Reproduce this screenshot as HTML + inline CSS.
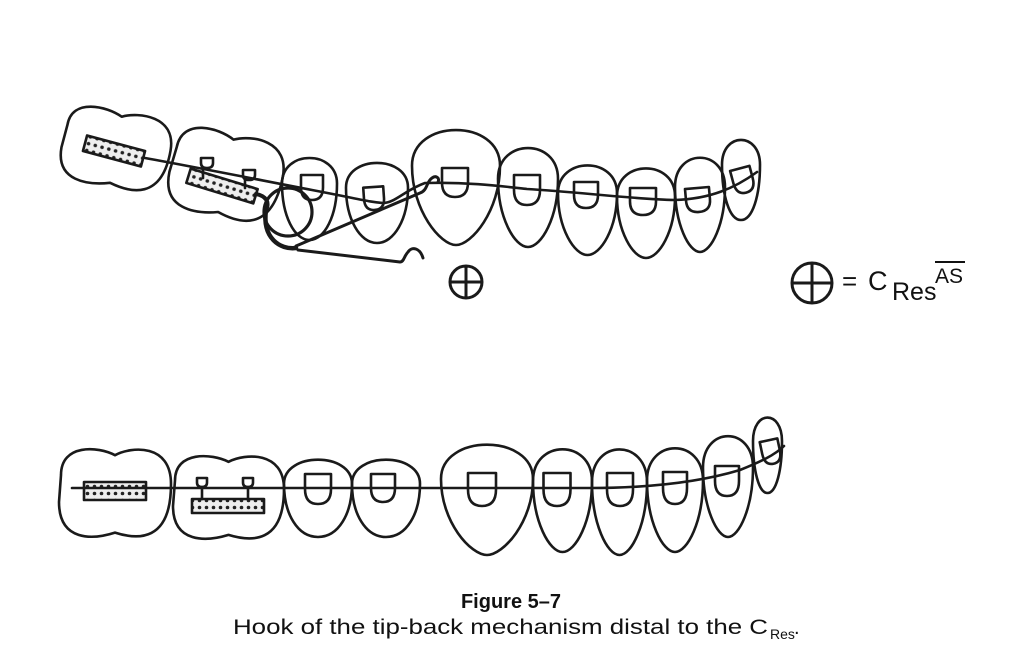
<!DOCTYPE html>
<html><head><meta charset="utf-8"><style>
html,body{margin:0;padding:0;background:#fff;}
svg{display:block;}
</style></head><body>
<svg width="1023" height="660" viewBox="0 0 1023 660" xmlns="http://www.w3.org/2000/svg">
<defs>
<pattern id="dots" width="7" height="7" patternUnits="userSpaceOnUse">
<rect width="7" height="7" fill="#eee"/><circle cx="3.5" cy="3.5" r="1.8" fill="#222"/>
</pattern>
</defs>
<g id="g" fill="none" stroke="#1a1a1a" stroke-width="2.6" stroke-linejoin="round" stroke-linecap="round"></g>
<text x="511" y="608" text-anchor="middle" font-family="Liberation Sans, sans-serif" font-weight="bold" font-size="20" fill="#111">Figure 5–7</text>
<text x="233" y="634" font-family="Liberation Sans, sans-serif" font-size="21" fill="#111" textLength="535" lengthAdjust="spacingAndGlyphs">Hook of the tip-back mechanism distal to the C</text>
<text x="770" y="639" font-family="Liberation Sans, sans-serif" font-size="14" fill="#111">Res</text>
<text x="794" y="634" font-family="Liberation Sans, sans-serif" font-size="20" fill="#111">.</text>
<text x="842" y="290" font-family="Liberation Sans, sans-serif" font-size="26" fill="#111">=</text>
<text x="868" y="290" font-family="Liberation Sans, sans-serif" font-size="27" fill="#111">C</text>
<text x="892" y="300" font-family="Liberation Sans, sans-serif" font-size="25" fill="#111">Res</text>
<text x="935" y="283" font-family="Liberation Sans, sans-serif" font-size="21" fill="#111">AS</text>
<line x1="935" y1="262" x2="965" y2="262" stroke="#111" stroke-width="2"/>
</svg>
<script>
var g=document.getElementById('g');var NS='http://www.w3.org/2000/svg';
function P(d,extra){var p=document.createElementNS(NS,'path');p.setAttribute('d',d);if(extra)for(var k in extra)p.setAttribute(k,extra[k]);g.appendChild(p);return p;}
function tooth(x0,x1,top,bot,nb){var w=x1-x0,cx=(x0+x1)/2,h=bot-top,wb=w*(nb||0.45);
P('M'+x0+','+(top+0.35*h)+' C'+x0+','+(top-0.04*h)+' '+x1+','+(top-0.04*h)+' '+x1+','+(top+0.35*h)+' C'+x1+','+(top+0.72*h)+' '+(cx+wb/2)+','+bot+' '+cx+','+bot+' C'+(cx-wb/2)+','+bot+' '+x0+','+(top+0.72*h)+' '+x0+','+(top+0.35*h)+' Z');}
function brk(cx,t,w,h,rot){var d='M'+(cx-w/2)+','+t+' H'+(cx+w/2)+' V'+(t+h*0.5)+' Q'+(cx+w/2)+','+(t+h)+' '+cx+','+(t+h)+' Q'+(cx-w/2)+','+(t+h)+' '+(cx-w/2)+','+(t+h*0.5)+' Z';
P(d,rot?{transform:'rotate('+rot+' '+cx+' '+(t+h/2)+')'}:null);}
function molar(x0,x1,y0,y1,rot){var w=x1-x0,h=y1-y0,cx=(x0+x1)/2,cy=(y0+y1)/2;
var d='M'+(x0+2)+','+(y0+h*0.3)+' C'+(x0+2)+','+(y0-h*0.05)+' '+(x0+w*0.35)+','+(y0-0.02*h)+' '+cx+','+(y0+h*0.08)+' C'+(x0+w*0.65)+','+(y0-0.02*h)+' '+x1+','+(y0-0.05*h)+' '+x1+','+(y0+h*0.4)+' C'+x1+','+(y1+0.05*h)+' '+(x0+w*0.7)+','+(y1+0.02*h)+' '+cx+','+(y1-h*0.06)+' C'+(x0+w*0.3)+','+(y1+0.02*h)+' '+x0+','+(y1+0.04*h)+' '+x0+','+(y0+h*0.6)+' Z';
P(d,rot?{transform:'rotate('+rot+' '+cx+' '+cy+')'}:null);}
function tube(cx,cy,l,w,rot){var r=document.createElementNS(NS,'rect');r.setAttribute('x',cx-l/2);r.setAttribute('y',cy-w/2);r.setAttribute('width',l);r.setAttribute('height',w);r.setAttribute('fill','url(#dots)');if(rot)r.setAttribute('transform','rotate('+rot+' '+cx+' '+cy+')');g.appendChild(r);}
/* TOP ROW */
molar(62,170,110,188,10);
molar(170,282,132,218,12);
tooth(282,337,153,240,0.55);
tooth(346,408,158,243,0.55);
tooth(412,500,123,245,0.35);
tooth(498,558,142,247);
tooth(558,617,160,255);
tooth(617,675,163,258);
tooth(675,725,152,252);
tooth(722,760,135,220,0.6);
tube(114,151,60,16,15);
tube(222,186,70,15,17);
brk(207,158,12,10);brk(249,170,12,10);
P('M203,168 V178 M245,180 V188');
brk(312,175,22,25);brk(374,187,20,23,-4);brk(455,168,26,29);
brk(527,175,26,30);brk(586,182,24,26);brk(643,188,26,27);brk(698,188,24,24,-5);brk(743,168,20,25,-15);
P('M145,158 C200,168 260,180 312,190 S370,202 383,203 C395,203 405,190 425,183 C470,182 500,186 527,189 C580,192 630,199 675,200 C710,199 735,188 757,172');
/* spring */
P('M256,194 C266,196 270,202 266,210',{'stroke-width':'4'});
P('M266,210 C262,238 280,250 296,248',{'stroke-width':'4.5'});
P('M264,212 A24,24 0 1,0 312,212 A24,24 0 1,0 264,212 Z',{'stroke-width':'3.2'});
P('M296,246 L420,193 C428,190 426,182 432,178 C436,175 440,178 438,182',{'stroke-width':'3'});
P('M298,250 L400,262 C404,262 404,256 408,252 C412,246 420,248 423,258',{'stroke-width':'3'});
/* CRes symbols */
P('M450,282 A16,16 0 1,0 482,282 A16,16 0 1,0 450,282 Z M466,266 V298 M450,282 H482',{'stroke-width':'3'});
P('M792,283 A20,20 0 1,0 832,283 A20,20 0 1,0 792,283 Z M812,263 V303 M792,283 H832',{'stroke-width':'3'});
/* BOTTOM ROW */
molar(59,171,448,538);
molar(173,284,455,540);
tooth(284,352,455,537,0.6);
tooth(352,420,455,537,0.6);
tooth(441,533,438,555,0.35);
tooth(533,592,443,552);
tooth(592,647,443,555);
tooth(647,703,442,552);
tooth(703,753,430,537);
tooth(753,782,413,493,0.6);
tube(115,491,62,18);
tube(228,506,72,14);
brk(202,478,10,9);brk(248,478,10,9);P('M202,487 V499 M248,487 V499');
brk(318,474,26,30);brk(383,474,24,28);brk(482,473,28,33);
brk(557,473,27,33);brk(620,473,26,33);brk(675,472,24,32);brk(727,466,24,30);brk(771,440,18,24,-12);
P('M72,488 L590,488 C650,488 700,482 740,470 C760,462 775,455 784,446');
</script>
</body></html>
